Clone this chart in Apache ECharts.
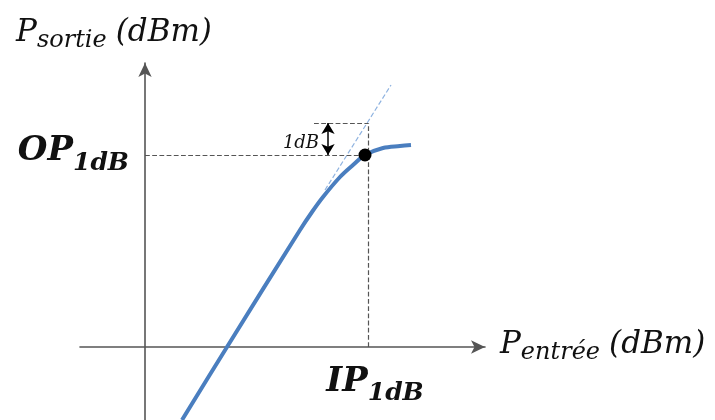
<!DOCTYPE html>
<html>
<head>
<meta charset="utf-8">
<script src="https://cdn.jsdelivr.net/npm/echarts@6/dist/echarts.min.js"></script>
<style>
  html, body { margin: 0; padding: 0; background: #fff; }
  #chart { width: 715px; height: 420px; }
</style>
</head>
<body>
<div id="chart"></div>
<script>
// courbe Pout = f(Pin), unites arbitraires (pas de graduations)
const curve = [[3.7, -7.3], [8.2, 0], [15.5, 11.7], [16.7, 13.5], [17.8, 15.0], [19.5, 17.0],
  [20.8, 18.2], [22.0, 19.2], [23.8, 19.9], [25.5, 20.1], [26.6, 20.2]]
// droite ideale (gain lineaire) prolongee
const idealLine = [[18.0, 15.7], [24.6, 26.2]]
const compressionPoint = [22.0, 19.2]
const ip1dB = 22.3
const op1dB = 19.2
const idealAtIp = 22.4  // 1 dB au-dessus
const arrowX = 18.3
const topDashStart = 16.9
const oneDbLabel = [15.6, 20.4]

const serif = 'DejaVu Serif'

const chart = echarts.init(document.getElementById('chart'))

const dash = { type: 'dashed', color: '#555', width: 1.2 }

const titleRich = {
  p: { fontFamily: serif, fontStyle: 'italic', fontSize: 31, color: '#111', verticalAlign: 'bottom', padding: [0, 0, 5, 0] },
  s: { fontFamily: serif, fontStyle: 'italic', fontSize: 24, color: '#111', verticalAlign: 'bottom' },
  q: { fontFamily: serif, fontStyle: 'italic', fontSize: 31, color: '#111', verticalAlign: 'bottom', padding: [0, 0, 5, 9] }
}
const boldRich = {
  b: { fontFamily: serif, fontStyle: 'italic', fontWeight: 'bold', fontSize: 34, color: '#111', verticalAlign: 'bottom', padding: [0, 0, 7, 0] },
  s: { fontFamily: serif, fontStyle: 'italic', fontWeight: 'bold', fontSize: 25, color: '#111', verticalAlign: 'bottom' }
}

chart.setOption({
  animation: false,
  grid: { left: 80, right: 230, top: 63, bottom: 0 },
  xAxis: {
    type: 'value',
    min: -6.5,
    max: 34,
    splitLine: { show: false },
    axisTick: { show: false },
    axisLabel: { show: false },
    axisLine: {
      symbol: ['none', 'arrow'],
      symbolSize: [10, 14],
      lineStyle: { color: '#555', width: 1.6 }
    },
    name: '{p|P}{s|entrée}{q|(dBm)}',
    nameLocation: 'end',
    nameGap: 15,
    nameTextStyle: { rich: titleRich }
  },
  yAxis: {
    type: 'value',
    min: -7.3,
    max: 28.4,
    splitLine: { show: false },
    axisTick: { show: false },
    axisLabel: { show: false },
    axisLine: {
      symbol: ['none', 'arrow'],
      symbolSize: [10, 14],
      lineStyle: { color: '#555', width: 1.6 }
    },
    name: '{p|P}{s|sortie}{q|(dBm)}',
    nameLocation: 'end',
    nameGap: 10,
    nameTextStyle: {
      padding: [0, 62, 0, 0],
      rich: titleRich
    }
  },
  series: [
    {
      type: 'line',
      data: idealLine,
      showSymbol: false,
      lineStyle: { type: 'dashed', color: '#8fb3e0', width: 1.2 },
      silent: true
    },
    {
      type: 'line',
      data: curve,
      smooth: 0.35,
      showSymbol: false,
      lineStyle: { color: '#4a7ebf', width: 4 },
      silent: true,
      markLine: {
        silent: true,
        symbol: 'none',
        data: [
          [
            { coord: [0, op1dB], lineStyle: dash,
              label: {
                show: true, position: 'start', distance: 16,
                formatter: '{b|OP}{s|1dB}',
                rich: boldRich
              } },
            { coord: [compressionPoint[0], op1dB] }
          ],
          [
            { coord: [ip1dB, 0], lineStyle: dash,
              label: {
                show: true, position: 'start', distance: 18,
                formatter: '{b|IP}{s|1dB}',
                padding: [0, 0, 0, 14],
                rich: boldRich
              } },
            { coord: [ip1dB, idealAtIp] }
          ],
          [
            { coord: [topDashStart, idealAtIp], lineStyle: dash, label: { show: false } },
            { coord: [ip1dB, idealAtIp] }
          ],
          [
            { coord: [arrowX, op1dB], symbol: 'arrow', symbolSize: [10, 11],
              lineStyle: { type: 'solid', color: '#000', width: 1.5 }, label: { show: false } },
            { coord: [arrowX, idealAtIp], symbol: 'arrow', symbolSize: [10, 11] }
          ]
        ]
      }
    },
    {
      type: 'scatter',
      data: [compressionPoint],
      symbolSize: 13,
      itemStyle: { color: '#000', opacity: 1 },
      z: 5,
      silent: true
    },
    {
      type: 'scatter',
      data: [oneDbLabel],
      symbolSize: 2,
      itemStyle: { color: 'rgba(0,0,0,0)' },
      silent: true,
      label: {
        show: true,
        position: 'inside',
        formatter: '1dB',
        fontFamily: serif,
        fontStyle: 'italic',
        fontSize: 18,
        opacity: 1,
        color: '#111'
      }
    }
  ]
})
</script>
</body>
</html>
